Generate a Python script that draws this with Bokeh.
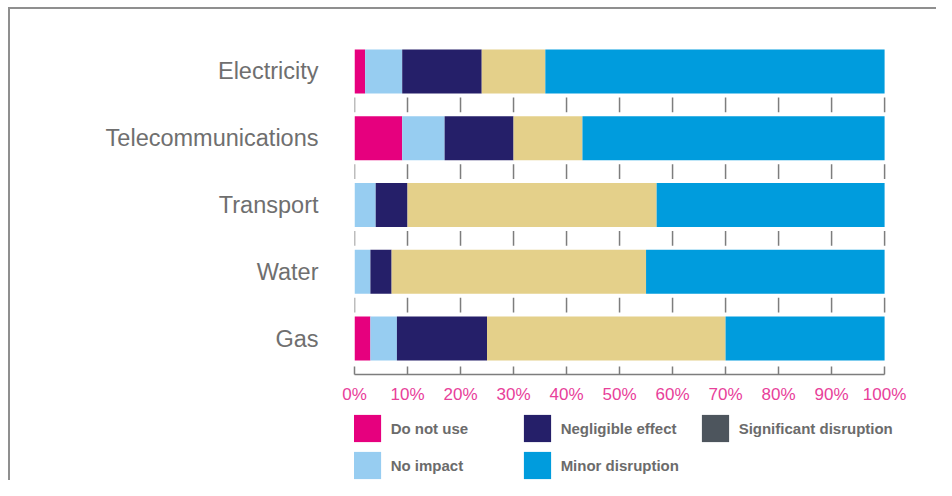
from bokeh.plotting import figure
from bokeh.layouts import column
from bokeh.models import (Range1d, FixedTicker, PrintfTickFormatter, Legend,
                          LegendItem, ColumnDataSource)
from bokeh.embed import file_html
from bokeh.resources import INLINE

# ---- data (percent of respondents) ----
categories = ["Electricity", "Telecommunications", "Transport", "Water", "Gas"]
do_not_use = [2, 9, 0, 0, 3]
no_impact = [7, 8, 4, 3, 5]
negligible_effect = [15, 13, 6, 4, 17]
minor_disruption = [12, 13, 47, 48, 45]
significant_disruption = [64, 57, 43, 45, 30]
series_names = ["Do not use", "No impact", "Negligible effect",
                "Minor disruption", "Significant disruption"]
x_ticks = [0, 10, 20, 30, 40, 50, 60, 70, 80, 90, 100]

# ---- styles ----
bar_colors = ["#e6007e", "#97cdf1", "#251f69", "#e4d08a", "#009cdd"]
legend_colors = ["#e6007e", "#97cdf1", "#251f69", "#009cdd", "#4d555d"]
PINK_TXT = "#e8409a"
GREY_TXT = "#6f6f6f"
TICK_GREY = "#7d7d7d"
FONT = "Liberation Sans"
W = 936
X_END = 103          # a little room past 100% so the legend fits the frame
FRAME_L = 354
FRAME_R = FRAME_L + 5.3 * X_END
SW = 27              # visible swatch size
GLYPH = SW / 0.8     # bokeh insets area swatches by 10% per side
INSET = (GLYPH - SW) / 2

n = len(categories)
ypos = [n - 1 - i for i in range(n)]

source = ColumnDataSource(data=dict(
    y=ypos,
    s0=do_not_use, s1=no_impact, s2=negligible_effect,
    s3=minor_disruption, s4=significant_disruption,
))

# ---- main chart ----
p = figure(width=W, height=406,
           x_range=Range1d(0, X_END), y_range=Range1d(-0.539, 4.494),
           output_backend="svg", toolbar_location=None,
           min_border_left=FRAME_L, min_border_right=int(round(W - FRAME_R)),
           min_border_top=38, min_border_bottom=32)
p.outline_line_color = None
p.xgrid.visible = False
p.ygrid.visible = False
p.background_fill_color = None
p.border_fill_color = None

p.hbar_stack(["s0", "s1", "s2", "s3", "s4"], y="y", height=0.659,
             color=bar_colors, line_color=None, source=source)

# short tick marks in the gaps between bars
sx, sy0, sy1 = [], [], []
for i in range(n - 1):
    gap = ypos[i] - 0.5
    for t in x_ticks:
        sx.append(t)
        sy0.append(gap - 0.112)
        sy1.append(gap + 0.112)
p.segment(x0=sx, y0=sy0, x1=sx, y1=sy1, line_color=TICK_GREY, line_width=1.5)

# x axis
xa = p.xaxis[0]
xa.ticker = FixedTicker(ticks=x_ticks)
xa.formatter = PrintfTickFormatter(format="%d%%")
xa.bounds = (x_ticks[0], x_ticks[-1])
xa.axis_line_color = TICK_GREY
xa.axis_line_width = 1.5
xa.major_tick_in = 8
xa.major_tick_out = 0
xa.major_tick_line_color = TICK_GREY
xa.major_tick_line_width = 1.5
xa.minor_tick_line_color = None
xa.major_label_text_font = FONT
xa.major_label_text_font_size = "17px"
xa.major_label_text_color = PINK_TXT
xa.major_label_standoff = 10

# y axis
ya = p.yaxis[0]
ya.ticker = FixedTicker(ticks=ypos)
ya.major_label_overrides = {ypos[i]: categories[i] for i in range(n)}
ya.axis_line_color = None
ya.major_tick_line_color = None
ya.major_tick_in = 0
ya.major_tick_out = 0
ya.minor_tick_line_color = None
ya.major_label_text_font = FONT
ya.major_label_text_font_size = "23.5px"
ya.major_label_text_color = GREY_TXT
ya.major_label_standoff = 36

# ---- legend strip ----
Q_H = 74
q = figure(width=W, height=Q_H, x_range=Range1d(0, 1), y_range=Range1d(0, 1),
           output_backend="svg", toolbar_location=None,
           x_axis_location=None, y_axis_location=None,
           min_border_left=FRAME_L, min_border_right=int(round(W - FRAME_R)),
           min_border_top=0, min_border_bottom=0)
q.outline_line_color = None
q.xgrid.visible = False
q.ygrid.visible = False
q.background_fill_color = None
q.border_fill_color = None

# zero-size bars: only their legend swatches show
swatches = [q.hbar(y=[0], left=[0], right=[0], height=0,
                   fill_color=c, line_color=None)
            for c in legend_colors]


def make_legend(idx, swatch_left, swatch_bottom_from_strip_bottom):
    leg = Legend(items=[LegendItem(label=series_names[k], renderers=[swatches[k]])
                        for k in idx],
                 location=(swatch_left - INSET - FRAME_L,
                           swatch_bottom_from_strip_bottom - INSET),
                 orientation="vertical",
                 glyph_width=int(round(GLYPH)), glyph_height=int(round(GLYPH)),
                 label_standoff=7, spacing=3, padding=0, margin=0,
                 border_line_color=None, background_fill_alpha=0,
                 label_text_font=FONT, label_text_font_size="15px",
                 label_text_font_style="bold", label_text_color="#6b6b6b")
    q.add_layout(leg)


make_legend([0, 1], 353, 1)
make_legend([2, 3], 523, 1)
make_legend([4], 701, 38)

frame_line = "#8f8f8f"
root = column(p, q, spacing=0, styles={
    "background": (f"linear-gradient({frame_line},{frame_line}) 8px 7px / 2px 100% no-repeat, "
                   f"linear-gradient({frame_line},{frame_line}) 8px 7px / 100% 2px no-repeat, "
                   "white"),
})

open("out.html", "w").write(file_html(root, INLINE))
